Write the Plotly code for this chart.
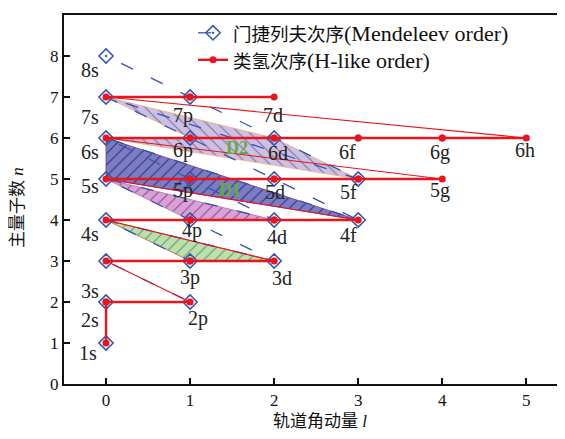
import plotly.graph_objects as go

# ---------------- data ----------------
L_LETTERS = ["s", "p", "d", "f", "g", "h"]

mendeleev_order = ["1s", "2s", "2p", "3s", "3p", "4s", "3d", "4p", "5s", "4d",
                   "5p", "6s", "4f", "5d", "6p", "7s", "5f", "6d", "7p", "8s"]
hlike_order = ["1s", "2s", "2p", "3s", "3p", "3d", "4s", "4p", "4d", "4f",
               "5s", "5p", "5d", "5f", "5g", "6s", "6p", "6d", "6f", "6g", "6h",
               "7s", "7p", "7d"]

region_green = ["3p", "4s", "3d"]
region_pink = ["4p", "5s", "4d"]
region_D1 = ["6s", "4f", "5s"]
region_D2 = ["7s", "6d", "5f", "6s", "6p"]

region_names = ["D1", "D2"]
x_ticks = [0, 1, 2, 3, 4, 5]
y_ticks = [0, 1, 2, 3, 4, 5, 6, 7, 8, 9]

legend_cjk = ["门捷列夫次序", "类氢次序"]
legend_latin = ["(Mendeleev order)", "(H-like order)"]
x_title = ["轨道角动量", "l"]
y_title = ["主量子数", "n"]


def l_of(name):
    return L_LETTERS.index(name[1])


def n_of(name):
    return int(name[0])


# ---------------- style ----------------
SERIF = "Liberation Serif, Noto Sans CJK SC, serif"
BLUE = "#3453b0"
RED = "#e8141e"

# page has an 8px body margin; figure coordinates = page - 8
FIG_W, FIG_H = 557, 431
M_L, M_R, M_T, M_B = 56, 0, 7, 55
PLOT_W = FIG_W - M_L - M_R
PLOT_H = FIG_H - M_T - M_B


def paper_x(page_px):
    return (page_px - 8 - M_L) / PLOT_W


def paper_y(page_py):
    return (FIG_H - M_B - (page_py - 8)) / PLOT_H


# label pixel offsets (dx right, dy down) from each orbital point
LABEL_OFFSETS = {
    "8s": (-16, 14), "7s": (-16, 20), "6s": (-16, 14), "5s": (-16, 7),
    "4s": (-16, 14), "3s": (-16, 30), "2s": (-16, 18), "1s": (-18, 10),
    "7p": (-7, 18), "6p": (-7, 12), "5p": (-7, 11), "4p": (2, 10),
    "3p": (0, 16), "2p": (8, 16),
    "7d": (-1, 18), "6d": (4, 15), "5d": (1, 13), "4d": (3, 17), "3d": (8, 17),
    "6f": (-11, 14), "5f": (-10, 13), "4f": (-10, 15),
    "6g": (-2, 14), "5g": (-2, 11), "6h": (-1, 12),
}
REGION_LABEL_POS = {"D1": (1.48, 4.73), "D2": (1.56, 5.76)}

fig = go.Figure()


def add_region(names, fill, fg, line_color, shape):
    xs = [l_of(s) for s in names] + [l_of(names[0])]
    ys = [n_of(s) for s in names] + [n_of(names[0])]
    fig.add_trace(go.Scatter(
        x=xs, y=ys, mode="lines", fill="toself",
        fillcolor=fill,
        fillpattern=dict(shape=shape, fgcolor=fg, bgcolor=fill,
                         size=8, solidity=0.12, fillmode="replace"),
        line=dict(color=line_color, width=0.8),
        showlegend=False, hoverinfo="skip"))


add_region(region_green, "#bde0a8", "#4f8f86", "#b0603a", "/")
add_region(region_pink, "#d9a2d4", "#8a3f90", "#b070b0", "/")
add_region(region_D1, "#7b7cc2", "#2a2a78", "#7a3a8a", "/")
add_region(region_D2, "#cdc0e2", "#7070a0", "#f2b27a", "\\")


def legend_label(i):
    return ('<span style="font-size:18.5px">' + legend_cjk[i] + '</span>'
            + legend_latin[i])


# Mendeleev order: dashed blue with open diamonds
fig.add_trace(go.Scatter(
    x=[l_of(s) for s in mendeleev_order],
    y=[n_of(s) for s in mendeleev_order],
    mode="lines+markers",
    name=legend_label(0),
    line=dict(color=BLUE, width=1.3, dash="13px,20px"),
    marker=dict(symbol="diamond-open-dot", size=11, color=BLUE,
                line=dict(color=BLUE, width=1.5)),
    legend="legend",
))

# H-like order: thick segments (same n or same l), thin diagonal jumps
thick_x, thick_y, thin_x, thin_y = [], [], [], []
for a, b in zip(hlike_order[:-1], hlike_order[1:]):
    seg_x = [l_of(a), l_of(b), None]
    seg_y = [n_of(a), n_of(b), None]
    if n_of(a) != n_of(b) and l_of(a) != l_of(b):
        thin_x += seg_x
        thin_y += seg_y
    else:
        thick_x += seg_x
        thick_y += seg_y

fig.add_trace(go.Scatter(
    x=thin_x, y=thin_y, mode="lines",
    line=dict(color=RED, width=1.1),
    showlegend=False, hoverinfo="skip"))
fig.add_trace(go.Scatter(
    x=thick_x, y=thick_y, mode="lines+markers",
    name=legend_label(1),
    line=dict(color=RED, width=2.4),
    marker=dict(symbol="circle", size=7, color=RED),
    legend="legend2",
))

annotations = []
all_orbitals = []
for s in mendeleev_order + hlike_order:
    if s not in all_orbitals:
        all_orbitals.append(s)
for s in all_orbitals:
    dx, dy = LABEL_OFFSETS.get(s, (0, 14))
    annotations.append(dict(
        x=l_of(s), y=n_of(s), text=s, showarrow=False,
        xshift=dx, yshift=-dy,
        font=dict(family=SERIF, size=20, color="#222")))

for name in region_names:
    px_, py_ = REGION_LABEL_POS[name]
    annotations.append(dict(
        x=px_, y=py_, text="<b>" + name + "</b>", showarrow=False,
        font=dict(family=SERIF, size=18, color="#5fae3c")))

# axis titles
annotations.append(dict(
    x=paper_x(320), y=paper_y(422), xref="paper", yref="paper",
    xanchor="center", yanchor="middle",
    text=x_title[0] + " <i>" + x_title[1] + "</i>",
    showarrow=False, font=dict(family=SERIF, size=17, color="#111")))
annotations.append(dict(
    x=paper_x(17), y=paper_y(208), xref="paper", yref="paper",
    xanchor="center", yanchor="middle",
    text=y_title[0] + " <i>" + y_title[1] + "</i>", textangle=-90,
    showarrow=False, font=dict(family=SERIF, size=17, color="#111")))

legend_style = dict(xanchor="left", yanchor="top",
                    bgcolor="rgba(0,0,0,0)", borderwidth=0,
                    font=dict(family=SERIF, size=22, color="#111"))

fig.update_layout(
    width=FIG_W, height=FIG_H,
    margin=dict(l=M_L, r=M_R, t=M_T, b=M_B),
    paper_bgcolor="white", plot_bgcolor="white",
    showlegend=True,
    legend=dict(x=paper_x(193), y=paper_y(12), **legend_style),
    legend2=dict(x=paper_x(193), y=paper_y(39), **legend_style),
    annotations=annotations,
)
fig.update_xaxes(range=[-0.5, 5.46], tickvals=x_ticks, ticks="inside",
                 ticklen=6, tickwidth=2, tickcolor="#111",
                 showline=True, linewidth=2, linecolor="#111", mirror=True,
                 showgrid=False, zeroline=False,
                 tickfont=dict(family=SERIF, size=17, color="#111"))
fig.update_yaxes(range=[0, 9], tickvals=y_ticks, ticks="inside",
                 ticklen=6, tickwidth=2, tickcolor="#111",
                 showline=True, linewidth=2, linecolor="#111", mirror=False,
                 showgrid=False, zeroline=False,
                 tickfont=dict(family=SERIF, size=17, color="#111"))

fig.write_html("out.html")
